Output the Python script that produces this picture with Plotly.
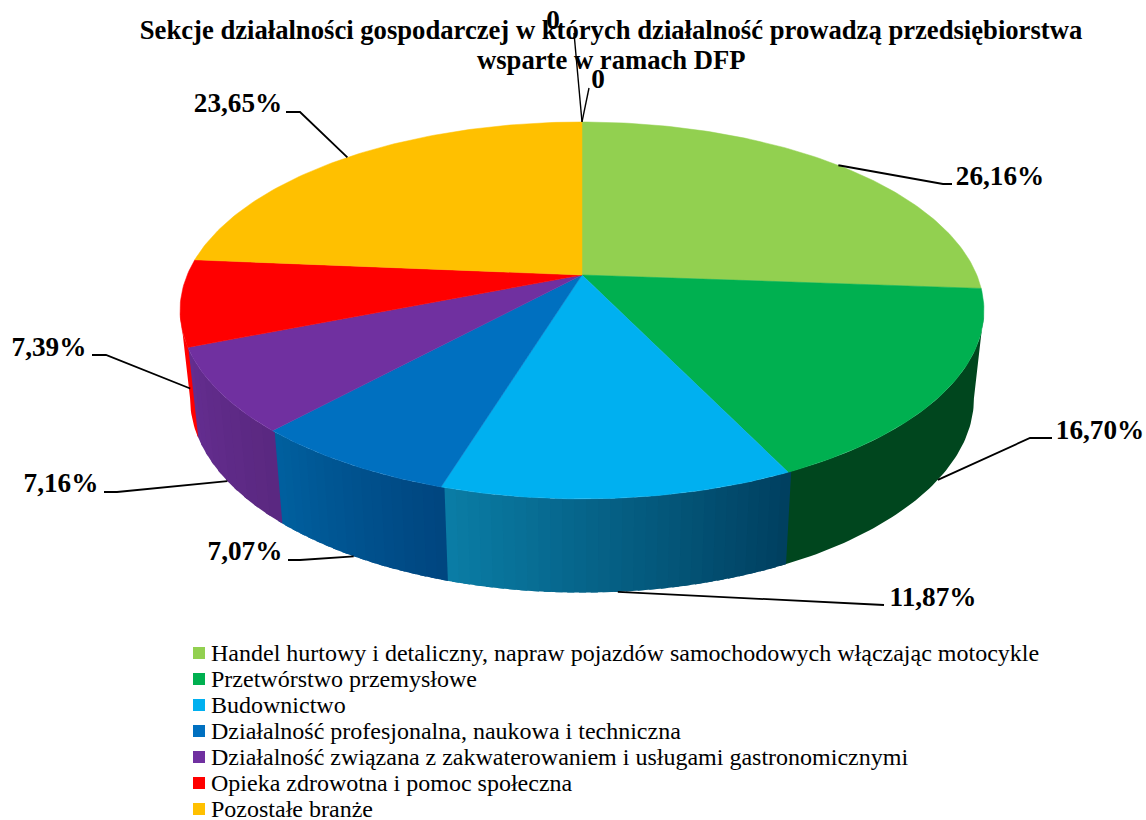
import numpy as np
import plotly.graph_objects as go

TITLE_LINES = ["Sekcje działalności gospodarczej w których działalność prowadzą przedsiębiorstwa",
               "wsparte w ramach DFP"]
CATEGORIES = [
    "Handel hurtowy i detaliczny, napraw pojazdów samochodowych włączając motocykle",
    "Przetwórstwo przemysłowe",
    "Budownictwo",
    "Działalność profesjonalna, naukowa i techniczna",
    "Działalność związana z zakwaterowaniem i usługami gastronomicznymi",
    "Opieka zdrowotna i pomoc społeczna",
    "Pozostałe branże",
]
VALUES = [26.16, 16.70, 11.87, 7.07, 7.16, 7.39, 23.65]
VALUE_LABELS = ["26,16%", "16,70%", "11,87%", "7,07%", "7,16%", "7,39%", "23,65%"]
ZERO_LABELS = ["0", "0"]

COLORS = ["#92D050", "#00B050", "#00B0F0", "#0070C0", "#7030A0", "#FF0000", "#FFC000"]
SIDE_LEFT = ["#00461E", "#00461E", "#0A7DA6", "#00609F", "#642D90", "#FF0000", "#7F6000"]
SIDE_RIGHT = ["#00461E", "#00461E", "#003F5F", "#00457F", "#5A2880", "#FF0000", "#7F6000"]
SIDE_STRIPS = [1, 1, 30, 18, 10, 1, 1]

# projection of the pie disc (perspective view, pixel-scaled axes)
CX, CY, A, B, P = 582.0, 275.0, 394.8, 181.8, 0.188
DEPTH, SHRINK_X, SHRINK_Y = 87.0, 0.975, 1.03
SILHOUETTE = np.degrees(np.arccos(-P)) / 3.6  # percent position where the wall becomes visible


def project(pct, bottom=False):
    th = np.radians(np.asarray(pct, dtype=float) * 3.6)
    u, v = np.sin(th), np.cos(th)
    w = 1 + P * v
    sx, sy = (SHRINK_X, SHRINK_Y) if bottom else (1.0, 1.0)
    return CX + sx * A * u / w, CY + (DEPTH if bottom else 0) - sy * B * v / w


def arc(a, b):
    return np.linspace(a, b, max(3, int((b - a) * 4) + 2))


def mix(c1, c2, t):
    p = [int(c1[i:i + 2], 16) for i in (1, 3, 5)]
    q = [int(c2[i:i + 2], 16) for i in (1, 3, 5)]
    return "rgb(%d,%d,%d)" % tuple(round(x + (y - x) * t) for x, y in zip(p, q))


edges = np.concatenate([[0], np.cumsum(VALUES)])
fig = go.Figure()

# side walls: only the part in front of the silhouette, as overlapping narrow strips
for i, (a, b) in enumerate(zip(edges[:-1], edges[1:])):
    lo, hi = max(a, SILHOUETTE), min(b, 100 - SILHOUETTE)
    if hi <= lo:
        continue
    n = SIDE_STRIPS[i]
    cuts = np.linspace(lo, hi, n + 1)
    for j in range(n):
        t = 1 - (j + 0.5) / n  # gradient runs left to right on screen
        col = mix(SIDE_LEFT[i], SIDE_RIGHT[i], t)
        ta = arc(max(cuts[j] - 0.12, SILHOUETTE), min(cuts[j + 1] + 0.12, 100 - SILHOUETTE))
        x0, y0 = project(ta)
        x1, y1 = project(ta[::-1], bottom=True)
        fig.add_trace(go.Scatter(
            x=np.r_[x0, x1, x0[0]], y=np.r_[y0, y1, y0[0]], mode="lines", fill="toself",
            fillcolor=col, line=dict(width=0), hoverinfo="skip", showlegend=False))

# top face
for i, (a, b) in enumerate(zip(edges[:-1], edges[1:])):
    x0, y0 = project(arc(a, b))
    fig.add_trace(go.Scatter(
        x=np.r_[CX, x0, CX], y=np.r_[CY, y0, CY], mode="lines", fill="toself",
        fillcolor=COLORS[i], line=dict(color=COLORS[i], width=0.5),
        name=CATEGORIES[i], showlegend=False))

# leader lines: anchor on the slice's middle, depth fraction on the wall, then elbow points
LEADER_DEPTH = [0, 1.0, 1.0, 1.0, 1.0, 0.98, 0]
LEADER_PATH = [
    [(943, 184), (952, 184)],
    [(1030, 438), (1052, 438)],
    [(884, 605)],
    [(300, 560), (288, 560)],
    [(117, 492), (104, 492)],
    [(106, 355), (92, 355)],
    [(300, 112), (286, 112)],
]
LABEL_POS = [(1000, 178), (1100, 432), (933, 599), (245, 553), (61, 485), (49, 349), (238, 105)]
mids = (edges[:-1] + edges[1:]) / 2
for i, m in enumerate(mids):
    xt, yt = project(m)
    xb, yb = project(m, bottom=True)
    f = LEADER_DEPTH[i]
    xs = [xt + (xb - xt) * f] + [p[0] for p in LEADER_PATH[i]]
    ys = [yt + (yb - yt) * f] + [p[1] for p in LEADER_PATH[i]]
    fig.add_trace(go.Scatter(x=xs, y=ys, mode="lines", line=dict(color="black", width=1.8),
                             hoverinfo="skip", showlegend=False))
ZERO_POS = [(553, 22), (598, 81)]
ZERO_TIPS = [(574, 33), (589, 88)]
ax, ay = project(0.0)
for tip in ZERO_TIPS:
    fig.add_trace(go.Scatter(x=[ax, tip[0]], y=[ay, tip[1]], mode="lines",
                             line=dict(color="black", width=1.4), hoverinfo="skip", showlegend=False))

label_font = dict(family="Liberation Serif", size=27.2, color="black", weight="bold")
fig.add_trace(go.Scatter(
    x=[p[0] for p in LABEL_POS + ZERO_POS], y=[p[1] for p in LABEL_POS + ZERO_POS],
    text=VALUE_LABELS + ZERO_LABELS, mode="text", textposition="middle center",
    textfont=label_font, hoverinfo="skip", showlegend=False, cliponaxis=False))

# legend
ROW_Y = [655, 681, 707, 733, 759, 785, 811]
SWATCH_Y = [653, 679, 705, 731, 757, 783, 809]
for i, name in enumerate(CATEGORIES):
    fig.add_trace(go.Scatter(
        x=[199], y=[SWATCH_Y[i]], mode="markers", name=name,
        marker=dict(symbol="square", size=12, color=COLORS[i]), hoverinfo="name", showlegend=False))
fig.add_trace(go.Scatter(
    x=[211] * 7, y=ROW_Y, text=CATEGORIES, mode="text", textposition="middle right",
    textfont=dict(family="Liberation Serif", size=24, color="black"),
    hoverinfo="skip", showlegend=False, cliponaxis=False))

title_font = dict(family="Liberation Serif", size=26.65, color="black", weight="bold")
fig.update_layout(
    width=1146, height=820, margin=dict(l=0, r=0, t=0, b=0),
    paper_bgcolor="white", plot_bgcolor="white", showlegend=False,
    title=dict(text=TITLE_LINES[0], x=611 / 1146, xanchor="center", y=1 - 30 / 820, yanchor="middle",
               font=title_font),
    annotations=[dict(text=TITLE_LINES[1], x=611, y=60, xref="x", yref="y", showarrow=False,
                      xanchor="center", yanchor="middle", font=title_font)],
    xaxis=dict(range=[0, 1146], visible=False, fixedrange=True),
    yaxis=dict(range=[820, 0], visible=False, fixedrange=True),
)
fig.write_html("out.html", config=dict(displayModeBar=False),
               post_script="document.body.style.margin='0';document.body.style.overflow='hidden';")
